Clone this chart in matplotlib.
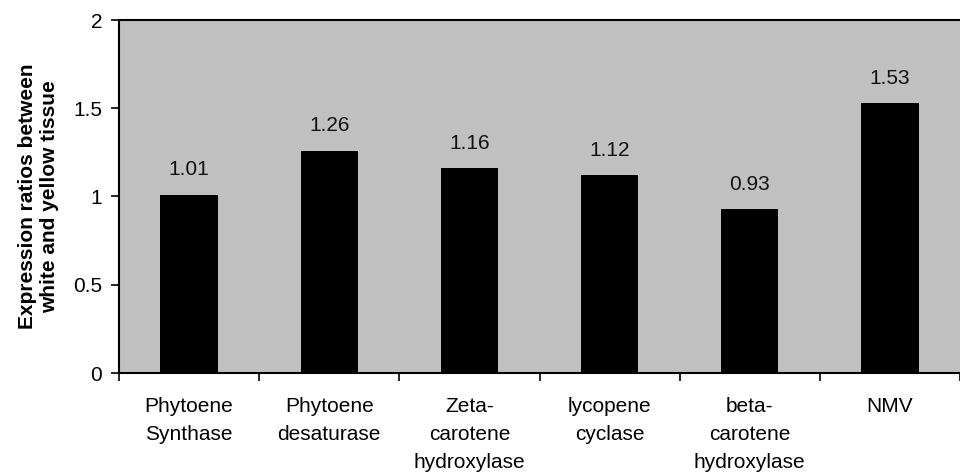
import matplotlib
matplotlib.use("Agg")
import matplotlib.pyplot as plt
import numpy as np

categories = ["Phytoene\nSynthase", "Phytoene\ndesaturase", "Zeta-\ncarotene\nhydroxylase",
              "lycopene\ncyclase", "beta-\ncarotene\nhydroxylase", "NMV"]
values = [1.01, 1.26, 1.16, 1.12, 0.93, 1.53]
value_labels = ["1.01", "1.26", "1.16", "1.12", "0.93", "1.53"]
yticks = [0, 0.5, 1, 1.5, 2]
ytick_labels = ["0", "0.5", "1", "1.5", "2"]

plt.rcParams['font.family'] = ['Liberation Sans', 'DejaVu Sans']

fig = plt.figure(figsize=(9.6, 4.73), dpi=100)
ax = fig.add_axes([119/960, 100/473, 1 - 119/960, 353/473])
ax.set_facecolor('#C0C0C0')

x = np.arange(len(categories))
ax.bar(x, values, width=0.41, color='black', zorder=3)
for xi, v, lab in zip(x, values, value_labels):
    ax.annotate(lab, (xi, v), xytext=(0, 11), textcoords='offset points',
                ha='center', va='bottom', fontsize=15, color='#111111')

ax.set_ylim(0, 2)
ax.set_xlim(-0.5, -0.5 + 841/143)
ax.set_yticks(yticks)
ax.set_yticklabels(ytick_labels, fontsize=15)
ax.set_xticks(x)
ax.set_xticklabels(categories, fontsize=15, linespacing=1.6, va='top')
ax.set_xticks(np.arange(len(categories) + 1) - 0.5, minor=True)
ax.tick_params(axis='x', which='major', length=0, pad=17)
ax.tick_params(axis='x', which='minor', length=6, width=1.2, direction='out')
ax.tick_params(axis='y', length=6, width=1.2, direction='out', pad=6)

for s in ['left', 'bottom', 'top']:
    ax.spines[s].set_linewidth(1.5)
ax.spines['right'].set_visible(False)

ax.set_ylabel("Expression ratios between\nwhite and yellow tissue", fontsize=15,
              fontweight='bold', labelpad=10, linespacing=1.2)

fig.savefig("out.png", dpi=100)
